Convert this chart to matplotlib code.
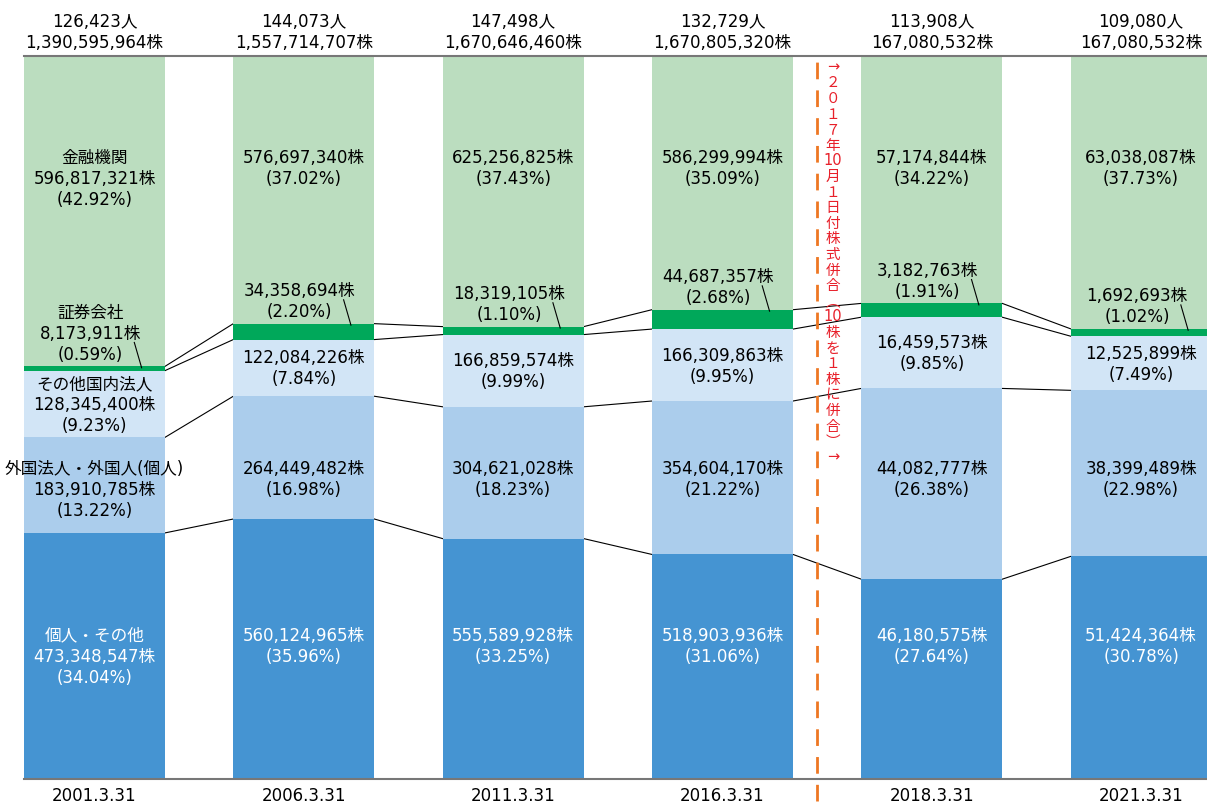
import matplotlib
matplotlib.use("Agg")
import matplotlib.pyplot as plt
import numpy as np

plt.rcParams['font.family'] = ['DejaVu Sans', 'Noto Sans CJK JP']

# データ
dates = ["2001.3.31", "2006.3.31", "2011.3.31", "2016.3.31", "2018.3.31", "2021.3.31"]
holders = ["126,423", "144,073", "147,498", "132,729", "113,908", "109,080"]
totals = ["1,390,595,964", "1,557,714,707", "1,670,646,460", "1,670,805,320",
          "167,080,532", "167,080,532"]

kojin = ["473,348,547", "560,124,965", "555,589,928", "518,903,936", "46,180,575", "51,424,364"]
kojin_pct = [34.04, 35.96, 33.25, 31.06, 27.64, 30.78]
gaikoku = ["183,910,785", "264,449,482", "304,621,028", "354,604,170", "44,082,777", "38,399,489"]
gaikoku_pct = [13.22, 16.98, 18.23, 21.22, 26.38, 22.98]
sonota = ["128,345,400", "122,084,226", "166,859,574", "166,309,863", "16,459,573", "12,525,899"]
sonota_pct = [9.23, 7.84, 9.99, 9.95, 9.85, 7.49]
shoken = ["8,173,911", "34,358,694", "18,319,105", "44,687,357", "3,182,763", "1,692,693"]
shoken_pct = [0.59, 2.20, 1.10, 2.68, 1.91, 1.02]
kinyu = ["596,817,321", "576,697,340", "625,256,825", "586,299,994", "57,174,844", "63,038,087"]
kinyu_pct = [42.92, 37.02, 37.43, 35.09, 34.22, 37.73]

names = ["個人・その他", "外国法人・外国人(個人)", "その他国内法人", "証券会社", "金融機関"]
colors = ["#4594d2", "#abcdec", "#d2e5f6", "#00a85a", "#bbddbf"]

note = ["→", "２", "０", "１", "７", "年", "10", "月", "１", "日", "付", "株", "式", "併", "合",
        "︵", "10", "株", "を", "１", "株", "に", "併", "合", "︶", "→"]

series = [kojin_pct, gaikoku_pct, sonota_pct, shoken_pct, kinyu_pct]

fig = plt.figure(figsize=(12.07, 8.04), dpi=100)
ax = fig.add_axes([24 / 1207, 24 / 804, 1 - 24 / 1207, (780 - 57) / 804])

x = np.arange(len(dates))
w = 0.674
fs = 12
ls = 1.22

bottoms = np.zeros(len(dates))
bounds = []
for vals, col in zip(series, colors):
    vals = np.array(vals)
    ax.bar(x, vals, w, bottom=bottoms, color=col, zorder=2)
    bottoms = bottoms + vals
    bounds.append(bottoms.copy())

# 棒の間をつなぐ線
for b in bounds[:4]:
    for i in range(len(dates) - 1):
        ax.plot([x[i] + w / 2, x[i + 1] - w / 2], [b[i], b[i + 1]],
                color="black", lw=0.8, zorder=1)


def pct(v):
    return "({:.2f}%)".format(v)


for i in range(len(dates)):
    first = (i == 0)
    # 金融機関
    t = kinyu[i] + "株\n" + pct(kinyu_pct[i])
    if first:
        t = names[4] + "\n" + t
    ax.text(x[i], 87.3, t, ha="center", va="top", fontsize=fs, linespacing=ls, zorder=3)

    # 証券会社
    top = bounds[3][i]
    t = shoken[i] + "株\n" + pct(shoken_pct[i])
    if first:
        t = names[3] + "\n" + t
    ax.text(x[i] - 0.02, top + 0.5, t, ha="center", va="bottom", fontsize=fs,
            linespacing=ls, zorder=3)
    ax.plot([x[i] + 0.19, x[i] + 0.225], [top + 3.3, top - 0.2], color="black",
            lw=0.8, zorder=3)

    # その他国内法人
    mid = (bounds[1][i] + bounds[2][i]) / 2
    t = sonota[i] + "株\n" + pct(sonota_pct[i])
    if first:
        t = names[2] + "\n" + t
    ax.text(x[i], mid, t, ha="center", va="center", fontsize=fs, linespacing=ls, zorder=3)

    # 外国法人・外国人
    t = gaikoku[i] + "株\n" + pct(gaikoku_pct[i])
    if first:
        t = names[1] + "\n" + t
    ax.text(x[i], 44.3, t, ha="center", va="top", fontsize=fs, linespacing=ls, zorder=3)

    # 個人・その他
    t = kojin[i] + "株\n" + pct(kojin_pct[i])
    if first:
        t = names[0] + "\n" + t
    ax.text(x[i], 21.2, t, ha="center", va="top", fontsize=fs, linespacing=ls,
            color="white", zorder=3)

    # 上の合計
    ax.text(x[i], 100.7, holders[i] + "人\n" + totals[i] + "株", ha="center",
            va="bottom", fontsize=fs, linespacing=ls)

# 株式併合の線
xd = 3.452
ax.plot([xd, xd], [-3, 100], color="#ee7722", lw=2, ls=(0, (6, 4)),
        clip_on=False, zorder=4)
ax.text(3.528, 99.6, "\n".join(note), ha="center", va="top", fontsize=10.5,
        linespacing=1.05, color="#e8202a", zorder=4)

ax.set_xlim(-0.337, 5.315)
ax.set_ylim(0, 100)
ax.set_xticks(x)
ax.set_xticklabels(dates, fontsize=fs)
ax.tick_params(axis="x", length=0, pad=5)
ax.set_yticks([])
for s in ["left", "right"]:
    ax.spines[s].set_visible(False)
for s in ["top", "bottom"]:
    ax.spines[s].set_color("#777777")
    ax.spines[s].set_linewidth(1.5)

fig.savefig("out.png", dpi=100)
